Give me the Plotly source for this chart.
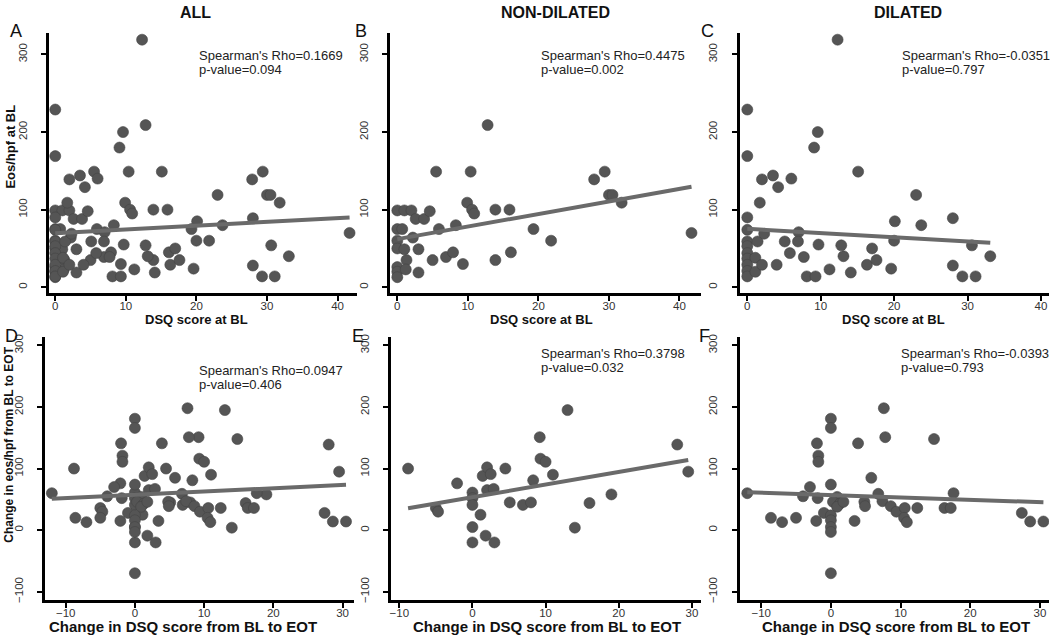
import plotly.graph_objects as go
import numpy as np

# ---------------- data ----------------
# Non-dilated: DSQ score at BL vs Eos/hpf at BL
nd_bl_dsq = [0, 1, 2, 2.6, 3.8, 4.6, 0, 0.7, 2.2, 0, 0, 1, 3, 1.3, 0, 0, 0, 1.2, 3, 5,
             5.5, 5.9, 6.9, 7.9, 8.3, 9.3, 9.9, 10.4, 10.6, 10.9, 12.8, 13.9, 13.9, 15.9,
             16.1, 19.3, 21.8, 27.9, 29.4, 30.0, 30.5, 31.8, 41.7]
nd_bl_eos = [99, 99, 99, 88, 88, 98, 75, 75, 64, 60, 50, 49, 49, 35, 26, 20, 13, 23, 19, 35,
             149, 75, 39, 45, 80, 30, 109, 149, 100, 95, 209, 100, 35, 100,
             45, 75, 60, 139, 149, 119, 119, 109, 70]

# Dilated: DSQ score at BL vs Eos/hpf at BL
dil_bl_dsq = [0, 0, 0, 0, 0, 0, 0, 0, 0, 0, 0, 1.4, 1.1, 1.1, 2.0, 1.7, 2.0, 3.5, 4.2, 6.0,
              2.3, 4.0, 5.1, 5.8, 7.0, 6.9, 7.7, 8.1, 9.3, 9.7, 9.1, 9.6, 11.2, 12.3, 12.8,
              13.1, 14.1, 15.1, 16.3, 17.0, 17.6, 19.6, 20.0, 20.1, 23.0, 23.7, 28.0, 28.0,
              29.3, 30.6, 31.1, 33.1]
dil_bl_eos = [229, 169, 90, 74, 59, 53, 44, 37, 29, 21, 14, 59, 38, 20, 29, 109, 139, 144, 129, 140,
              69, 29, 59, 44, 71, 59, 39, 14, 14, 55, 180, 200, 23, 319, 54,
              40, 19, 149, 29, 50, 35, 24, 60, 85, 119, 80, 89, 28,
              14, 54, 14, 40]

# Non-dilated: change in DSQ vs change in eos/hpf (BL to EOT)
nd_chg_dsq = [-8.8, -5.0, -4.7, -2.1, 0, 0, 0, 0, 0, 1.1, 1.4, 1.8, 2.0, 2.5, 2.0, 2.9, 3.0,
              4.5, 5.1, 6.9, 8.0, 8.3, 9.2, 9.3, 10.0, 11.0, 13.0, 14.0, 16.0, 19.0, 28.0, 29.5]
nd_chg_eos = [100, 36, 30, 76, 61, 52, 41, 5, -20, 25, 88, -9, 102, 91, 65, 67, -20,
              100, 45, 41, 45, 81, 151, 116, 111, 90, 195, 4, 44, 58, 139, 95]

# Dilated: change in DSQ vs change in eos/hpf (BL to EOT)
dil_chg_dsq = [-12, -8.6, -7, -5, -4, -3, -2, -1.8, -1.8, -1.9, -2.1, -1, 0, 0, 0, 0.9, 0.3,
               1.3, 0.9, 1.8, 0, 0, 0, 0, 0, 3.4, 3.9, 4.8, 4.9, 5.8, 6.8, 7.4, 7.8, 7.6,
               8.6, 9.4, 10.6, 10.5, 10.9, 12.4, 14.8, 16.3, 17.2, 17.6, 27.4, 28.6, 30.5]
dil_chg_eos = [60, 20, 13, 20, 55, 70, 141, 121, 111, 52, 15, 28, 181, 166, 74, 54, 46,
               43, 38, 46, 24, 16, 5, -3, -70, 15, 141, 46, 39, 85, 59, 47, 151, 198,
               39, 30, 36, 20, 13, 36, 148, 36, 36, 60, 28, 14, 14]

# All patients = non-dilated + dilated
all_bl_dsq = nd_bl_dsq + dil_bl_dsq
all_bl_eos = nd_bl_eos + dil_bl_eos
all_chg_dsq = nd_chg_dsq + dil_chg_dsq
all_chg_eos = nd_chg_eos + dil_chg_eos

# Linear fit (intercept, slope) per panel A..F, as drawn in the reference
fit_intercept = [69.5, 62.0, 75.3, 57.4, 53.5, 56.9]
fit_slope = [0.49, 1.62, -0.54, 0.53, 2.05, -0.38]

rho_text = ["Spearman's Rho=0.1669", "Spearman's Rho=0.4475", "Spearman's Rho=-0.0351",
            "Spearman's Rho=0.0947", "Spearman's Rho=0.3798", "Spearman's Rho=-0.0393"]
p_text = ["p-value=0.094", "p-value=0.002", "p-value=0.797",
          "p-value=0.406", "p-value=0.032", "p-value=0.793"]
panel_letters = ["A", "B", "C", "D", "E", "F"]
column_titles = ["ALL", "NON-DILATED", "DILATED"]
xtitle_top = "DSQ score at BL"
xtitle_bottom = "Change in DSQ score from BL to EOT"
ytitle_top = "Eos/hpf at BL"
ytitle_bottom = "Change in eos/hpf from BL to EOT"
xticks_top = [0, 10, 20, 30, 40]
xticks_bottom = [-10, 0, 10, 20, 30]
yticks_top = [0, 100, 200, 300]
yticks_bottom = [-100, 0, 100, 200, 300]

# ---------------- layout geometry (pixels) ----------------
W, H = 1050, 637
FONT = "Liberation Sans, Arial, sans-serif"

panels = [
    dict(x=all_bl_dsq, y=all_bl_eos, xd=(47, 356), yd=(30, 293), xr=[-0.9, 42.8], yr=[-7.7, 328],
         xt=xticks_top, yt=yticks_top, txt=(195, 53), letter=(14, 28)),
    dict(x=nd_bl_dsq, y=nd_bl_eos, xd=(389, 700), yd=(30, 293), xr=[-1.0, 43.0], yr=[-7.7, 328],
         xt=xticks_top, yt=yticks_top, txt=(538, 53), letter=(360, 28)),
    dict(x=dil_bl_dsq, y=dil_bl_eos, xd=(739, 1049), yd=(30, 293), xr=[-1.05, 41.1], yr=[-7.7, 328],
         xt=xticks_top, yt=yticks_top, txt=(900, 53), letter=(707, 28)),
    dict(x=all_chg_dsq, y=all_chg_eos, xd=(43, 353), yd=(337, 603), xr=[-13.0, 31.7], yr=[-114, 314],
         xt=xticks_bottom, yt=yticks_bottom, txt=(195, 371), letter=(10, 336)),
    dict(x=nd_chg_dsq, y=nd_chg_eos, xd=(390, 700), yd=(337, 603), xr=[-11.1, 31.2], yr=[-114, 314],
         xt=xticks_bottom, yt=yticks_bottom, txt=(538, 354), letter=(357, 336)),
    dict(x=dil_chg_dsq, y=dil_chg_eos, xd=(739, 1049), yd=(337, 603), xr=[-13.1, 31.3], yr=[-114, 314],
         xt=xticks_bottom, yt=yticks_bottom, txt=(899, 354), letter=(704, 336)),
]

fig = go.Figure()
annotations = []
layout = {}

def px_x(v):
    return v / W

def px_y(v):
    return 1 - v / H

for i, p in enumerate(panels):
    n = "" if i == 0 else str(i + 1)
    xa, ya = "x" + n, "y" + n
    fig.add_trace(go.Scatter(
        x=p["x"], y=p["y"], mode="markers", xaxis=xa, yaxis=ya, showlegend=False,
        marker=dict(size=11, color="#555555", line=dict(color="#444444", width=0.6)),
        hoverinfo="x+y"))
    xs = np.array([min(p["x"]), max(p["x"])])
    ys = fit_intercept[i] + fit_slope[i] * xs
    fig.add_trace(go.Scatter(
        x=xs, y=ys, mode="lines", xaxis=xa, yaxis=ya, showlegend=False,
        line=dict(color="#6a6a6a", width=4), hoverinfo="skip"))

    common = dict(showline=True, linecolor="black", linewidth=2.6, ticks="outside",
                  ticklen=5, tickwidth=2, tickcolor="black", showgrid=False, zeroline=False,
                  tickfont=dict(family=FONT, size=11.5, color="#333333"), fixedrange=True)
    layout["xaxis" + n] = dict(common, domain=[px_x(p["xd"][0]), px_x(p["xd"][1])],
                               range=p["xr"], tickvals=p["xt"], anchor=ya,
                               ticklabelstandoff=-5)
    layout["yaxis" + n] = dict(common, domain=[px_y(p["yd"][1]), px_y(p["yd"][0])],
                               range=p["yr"], tickvals=p["yt"], tickangle=-90, anchor=xa,
                               ticklabelstandoff=10)

    # Spearman text
    tx, ty = p["txt"]
    annotations.append(dict(x=px_x(tx), y=px_y(ty), xref="paper", yref="paper",
                            text=rho_text[i], showarrow=False, xanchor="left", yanchor="middle",
                            font=dict(family=FONT, size=13, color="#222222")))
    annotations.append(dict(x=px_x(tx), y=px_y(ty + 14), xref="paper", yref="paper",
                            text=p_text[i], showarrow=False, xanchor="left", yanchor="middle",
                            font=dict(family=FONT, size=13, color="#222222")))
    # panel letter
    lx, ly = p["letter"]
    annotations.append(dict(x=px_x(lx), y=px_y(ly), xref="paper", yref="paper",
                            text=panel_letters[i], showarrow=False, xanchor="center", yanchor="middle",
                            font=dict(family=FONT, size=18, color="#111111")))

# column titles
for cx, t in zip([194, 555, 908], column_titles):
    annotations.append(dict(x=px_x(cx), y=px_y(10), xref="paper", yref="paper", text="<b>%s</b>" % t,
                            showarrow=False, xanchor="center", yanchor="middle",
                            font=dict(family=FONT, size=16, color="#111111")))
# x-axis titles
for cx in [195, 541, 893]:
    annotations.append(dict(x=px_x(cx), y=px_y(320), xref="paper", yref="paper",
                            text="<b>%s</b>" % xtitle_top, showarrow=False, xanchor="center",
                            yanchor="middle", font=dict(family=FONT, size=13, color="#111111")))
for cx in [181, 546, 896]:
    annotations.append(dict(x=px_x(cx), y=px_y(629), xref="paper", yref="paper",
                            text="<b>%s</b>" % xtitle_bottom, showarrow=False, xanchor="center",
                            yanchor="middle", font=dict(family=FONT, size=15, color="#111111")))
# y-axis titles
annotations.append(dict(x=px_x(9), y=px_y(145), xref="paper", yref="paper",
                        text="<b>%s</b>" % ytitle_top, showarrow=False, textangle=-90,
                        xanchor="center", yanchor="middle",
                        font=dict(family=FONT, size=13, color="#111111")))
annotations.append(dict(x=px_x(7), y=px_y(446), xref="paper", yref="paper",
                        text="<b>%s</b>" % ytitle_bottom, showarrow=False, textangle=-90,
                        xanchor="center", yanchor="middle",
                        font=dict(family=FONT, size=12, color="#111111")))

fig.update_layout(**layout)
fig.update_layout(width=W, height=H, margin=dict(l=0, r=0, t=0, b=0),
                  paper_bgcolor="white", plot_bgcolor="white", annotations=annotations,
                  font=dict(family=FONT), showlegend=False)

fig.write_html("out.html", config={"displayModeBar": False},
               post_script="document.body.style.margin='0';document.body.style.overflow='hidden';")
